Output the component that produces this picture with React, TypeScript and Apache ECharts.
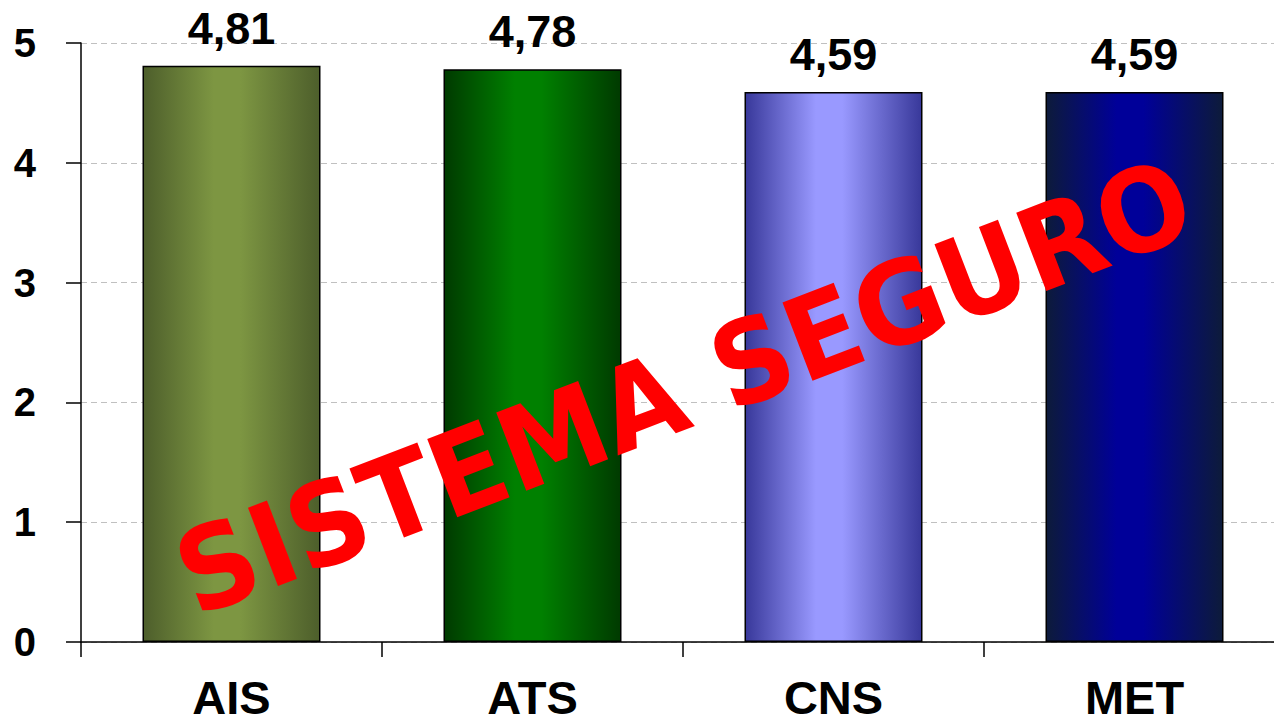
import React, { useEffect, useRef } from "react";
import * as echarts from "echarts";

const categories = ["AIS", "ATS", "CNS", "MET"];
const values = [4.81, 4.78, 4.59, 4.59];
const darkColors = ["#4d5e2b", "#003a00", "#38389a", "#0d1b3a"];
const lightColors = ["#7d9642", "#008000", "#9999ff", "#000099"];
const valueLabels = ["4,81", "4,78", "4,59", "4,59"];
const watermark = "SISTEMA SEGURO";

export default function App() {
  const ref = useRef<HTMLDivElement>(null);
  useEffect(() => {
    if (!ref.current) return;
    const chart = echarts.init(ref.current, undefined, { renderer: "svg" });
    const data = values.map((v, i) => ({
      value: v,
      itemStyle: {
        color: new echarts.graphic.LinearGradient(0, 0, 1, 0, [
          { offset: 0, color: darkColors[i] },
          { offset: 0.4, color: lightColors[i] },
          { offset: 0.55, color: lightColors[i] },
          { offset: 1, color: darkColors[i] },
        ]),
        borderColor: "#000",
        borderWidth: 1.5,
      },
    }));
    chart.setOption({
      animation: false,
      backgroundColor: "#fff",
      grid: {
        left: 81,
        top: 43,
        width: 1204,
        height: 599,
        containLabel: false,
        outerBoundsMode: "none",
      },
      xAxis: {
        type: "category",
        data: categories,
        axisLine: { lineStyle: { color: "#000", width: 1.5 } },
        axisTick: { show: true, length: 15, lineStyle: { color: "#000", width: 1.5 } },
        axisLabel: {
          color: "#000",
          fontFamily: "Liberation Sans",
          fontWeight: "bold",
          fontSize: 47,
          lineHeight: 47,
          margin: 32,
        },
      },
      yAxis: {
        type: "value",
        min: 0,
        max: 5,
        interval: 1,
        axisLine: { show: true, lineStyle: { color: "#000", width: 1.5 } },
        axisTick: { show: true, length: 15, lineStyle: { color: "#000", width: 1.5 } },
        axisLabel: {
          color: "#000",
          fontFamily: "Liberation Sans",
          fontWeight: "bold",
          fontSize: 40,
          margin: 45,
        },
        splitLine: { show: true, lineStyle: { color: "#c0c0c0", type: [6, 4], width: 1 } },
      },
      series: [
        {
          type: "bar",
          data,
          barWidth: 178,
          label: {
            show: true,
            position: "top",
            distance: 15,
            color: "#000",
            fontFamily: "Liberation Sans",
            fontWeight: "bold",
            fontSize: 45,
            formatter: (p: any) => valueLabels[p.dataIndex],
          },
        },
      ],
      graphic: [
        {
          type: "text",
          x: 684,
          y: 387,
          rotation: (21 * Math.PI) / 180,
          scaleX: 0.94,
          scaleY: 1,
          z: 100,
          style: {
            text: watermark,
            fill: "#ff0000",
            font: "bold 115px 'DejaVu Sans'",
            textAlign: "center",
            textVerticalAlign: "middle",
          },
        },
      ],
    });
    return () => chart.dispose();
  }, []);
  return (
    <div
      ref={ref}
      style={{ position: "absolute", left: 0, top: 0, width: 1274, height: 723 }}
    />
  );
}
